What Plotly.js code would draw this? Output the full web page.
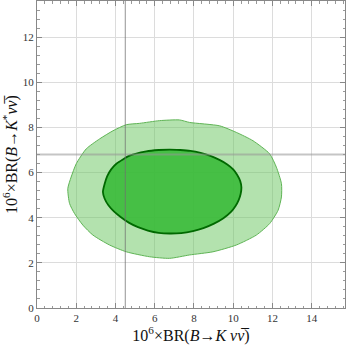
<!DOCTYPE html>
<html>
<head>
<meta charset="utf-8">
<script src="https://cdn.plot.ly/plotly-3.0.1.min.js"></script>
<style>
  body { margin: 0; padding: 0; background: #fff; }
  #plot { width: 346px; height: 347px; }
</style>
</head>
<body>
<div id="plot"></div>
<script>
// 2 sigma region (outer contour)
var outerX = [1.57, 1.74, 2.00, 2.51, 3.19, 3.87, 4.55, 5.23, 6.25, 7.27, 7.78, 9.31, 10.16, 11.01, 11.86, 12.20, 12.46,
              12.46, 12.29, 11.86, 11.18, 10.16, 8.97, 7.78, 6.76, 5.74, 4.55, 3.70, 2.85, 2.34, 1.91, 1.66, 1.57];
var outerY = [5.29, 5.80, 6.39, 7.05, 7.49, 7.85, 8.12, 8.18, 8.30, 8.33, 8.22, 8.07, 7.78, 7.41, 6.83, 6.24, 5.51,
              4.92, 4.33, 3.74, 3.23, 2.79, 2.49, 2.35, 2.20, 2.27, 2.49, 2.79, 3.23, 3.67, 4.19, 4.63, 5.29];

// 1 sigma region (inner contour)
var innerX = [3.36, 3.45, 3.58, 3.78, 4.06, 4.72, 5.57, 6.20, 6.76, 7.30, 7.82, 8.34, 8.84, 9.30, 9.70, 10.00, 10.20,
              10.36, 10.42, 10.38, 10.28, 10.12, 9.90, 9.50, 9.02, 8.48, 7.95, 7.35, 6.76, 6.20, 5.65, 5.15, 4.70,
              4.28, 3.92, 3.64, 3.45, 3.36];
var innerY = [5.14, 5.50, 5.84, 6.14, 6.40, 6.75, 6.94, 7.00, 7.02, 7.00, 6.96, 6.87, 6.74, 6.56, 6.36, 6.14, 5.90,
              5.62, 5.34, 5.05, 4.78, 4.52, 4.27, 3.98, 3.74, 3.54, 3.41, 3.32, 3.30, 3.33, 3.43, 3.58, 3.77,
              4.02, 4.28, 4.55, 4.84, 5.14];

// measured values (reference lines)
var measK = 4.5;
var measKstar = 6.8;

var xRange = [0, 15.7];
var yRange = [0, 13.6];

var outer = {
  x: outerX, y: outerY,
  type: "scatter", mode: "lines",
  fill: "toself",
  fillcolor: "rgba(110,200,100,0.52)",
  line: {color: "rgb(95,180,85)", width: 1, shape: "spline", smoothing: 0.6},
  hoverinfo: "skip"
};

var inner = {
  x: innerX, y: innerY,
  type: "scatter", mode: "lines",
  fill: "toself",
  fillcolor: "rgba(55,185,55,0.88)",
  line: {color: "rgb(0,105,0)", width: 1.8, shape: "spline", smoothing: 0.5},
  hoverinfo: "skip"
};

var vLine = {
  x: [measK, measK], y: yRange,
  type: "scatter", mode: "lines",
  line: {color: "rgba(110,110,110,0.75)", width: 1},
  hoverinfo: "skip"
};

var hLine = {
  x: xRange, y: [measKstar, measKstar],
  type: "scatter", mode: "lines",
  line: {color: "rgba(150,150,150,0.55)", width: 2},
  hoverinfo: "skip"
};

var data = [outer, inner, vLine, hLine];

var axisCommon = {
  showline: true,
  mirror: "ticks",
  linecolor: "#888",
  linewidth: 1,
  ticks: "inside",
  ticklen: 5,
  tickcolor: "#888",
  dtick: 2,
  tick0: 0,
  showgrid: true,
  gridcolor: "#dcdcdc",
  gridwidth: 1,
  zeroline: false,
  minor: {ticks: "inside", ticklen: 2.5, dtick: 0.4, tickcolor: "#999", showgrid: false},
  tickfont: {family: "Liberation Serif, serif", size: 11, color: "#333"}
};

var layout = {
  width: 346,
  height: 347,
  margin: {l: 37, r: 1, t: 1, b: 39},
  showlegend: false,
  font: {family: "Liberation Serif, serif", size: 11, color: "#333"},
  paper_bgcolor: "#fff",
  plot_bgcolor: "#fff",
  xaxis: Object.assign({}, axisCommon, {
    range: xRange,
    title: {
      text: "10<sup>6</sup>×BR(<i>B</i>→<i>K</i> <i>ν</i><i>ν̅</i>)",
      font: {family: "Liberation Serif, serif", size: 16, color: "#111"},
      standoff: 6
    }
  }),
  yaxis: Object.assign({}, axisCommon, {
    range: yRange,
    title: {
      text: "10<sup>6</sup>×BR(<i>B</i>→<i>K</i><sup>*</sup><i>ν</i><i>ν̅</i>)",
      font: {family: "Liberation Serif, serif", size: 16, color: "#111"},
      standoff: 4
    }
  })
};

Plotly.newPlot("plot", data, layout, {displayModeBar: false, staticPlot: true});
</script>
</body>
</html>
